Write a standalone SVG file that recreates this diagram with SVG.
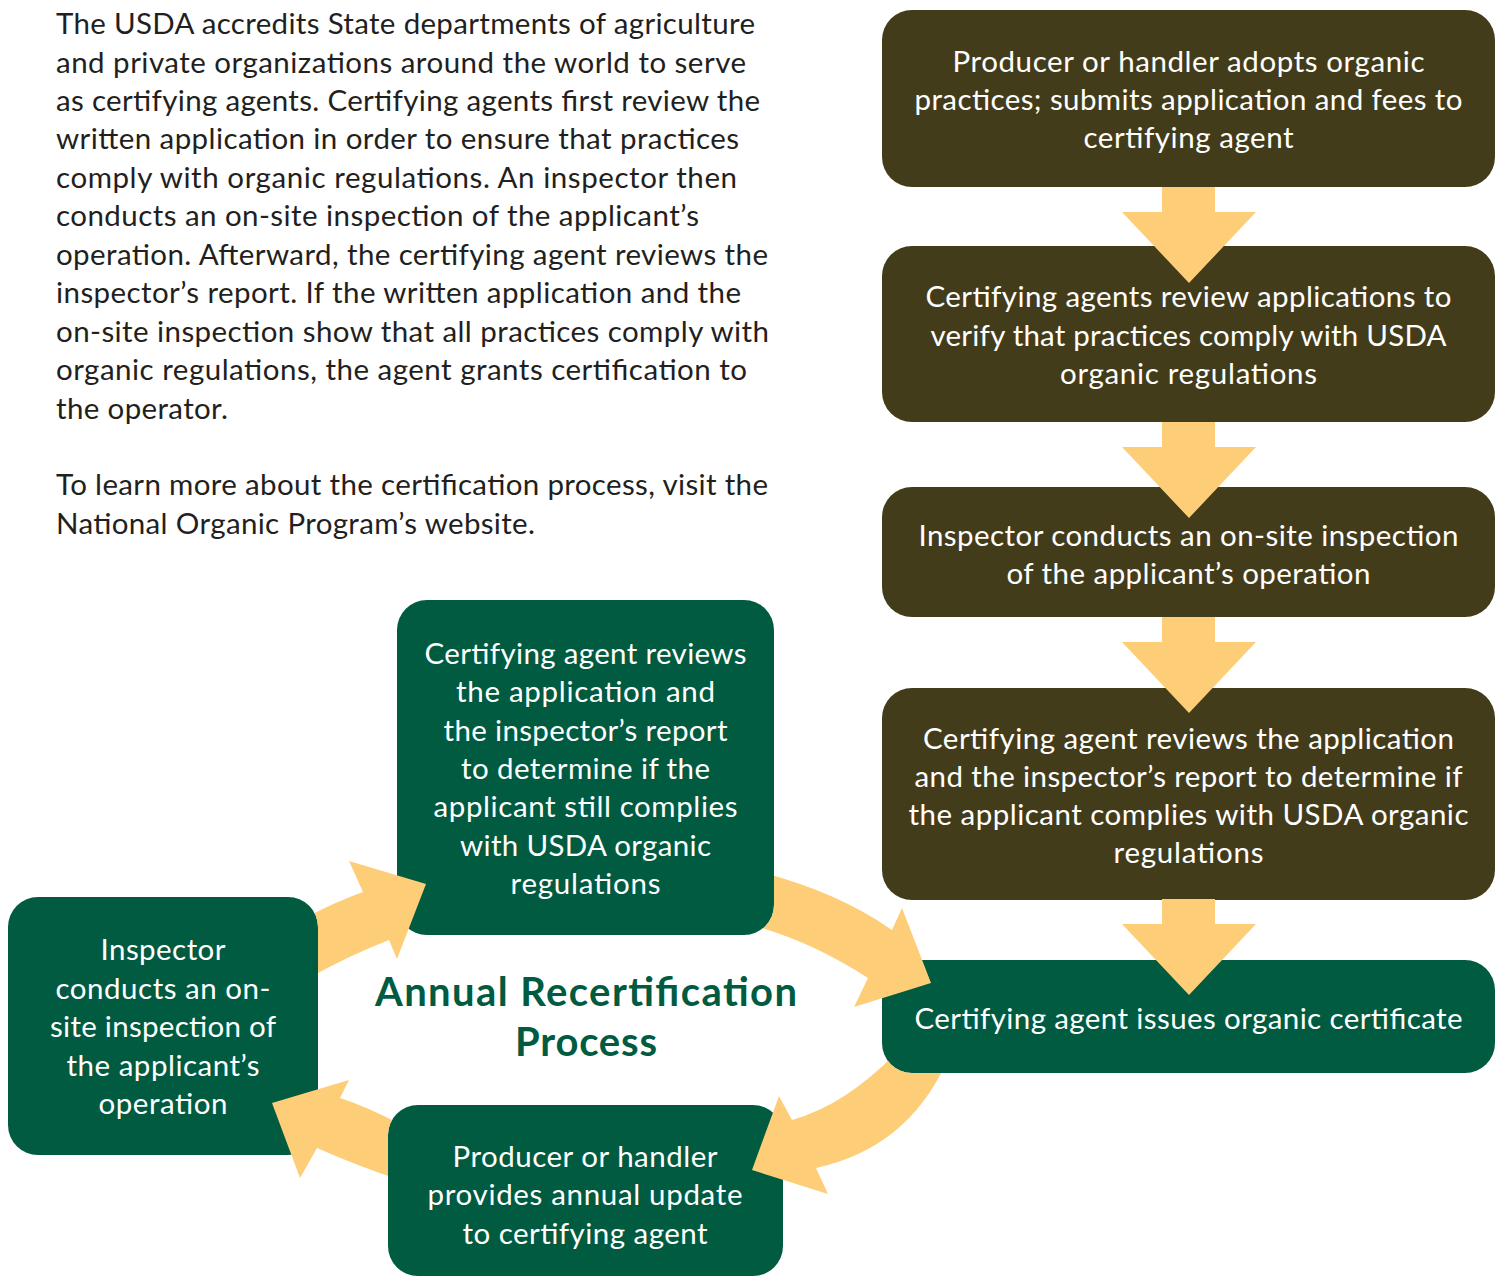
<svg xmlns="http://www.w3.org/2000/svg" width="1502" height="1277" viewBox="0 0 1502 1277">
<style>
.para{font-family:Lato,"Open Sans","Liberation Sans",sans-serif;font-size:29.5px;fill:#231f20}
.bt{font-family:Lato,"Open Sans","Liberation Sans",sans-serif;font-size:29.5px;fill:#ffffff;text-anchor:middle}
.title{font-family:Lato,"Open Sans","Liberation Sans",sans-serif;font-size:40px;font-weight:bold;fill:#005b41;text-anchor:middle}
.olive{fill:#433c1a}
.green{fill:#005b41}
.arrow{fill:#fecd78}
</style>
<defs>
<clipPath id="clipA"><path clip-rule="evenodd" d="M0 0H1502V1277H0Z M427,600 H744 A30 30 0 0 1 774,630 V905 A30 30 0 0 1 744,935 H427 A30 30 0 0 1 397,905 V630 A30 30 0 0 1 427,600 Z"/></clipPath>
<clipPath id="clipB"><path clip-rule="evenodd" d="M0 0H1502V1277H0Z M912,960 H1465 A30 30 0 0 1 1495,990 V1043 A30 30 0 0 1 1465,1073 H912 A30 30 0 0 1 882,1043 V990 A30 30 0 0 1 912,960 Z"/></clipPath>
<clipPath id="clipC"><path clip-rule="evenodd" d="M0 0H1502V1277H0Z M418,1105 H753 A30 30 0 0 1 783,1135 V1246 A30 30 0 0 1 753,1276 H418 A30 30 0 0 1 388,1246 V1135 A30 30 0 0 1 418,1105 Z"/></clipPath>
<clipPath id="clipD"><path clip-rule="evenodd" d="M0 0H1502V1277H0Z M38,897 H288 A30 30 0 0 1 318,927 V1125 A30 30 0 0 1 288,1155 H38 A30 30 0 0 1 8,1125 V927 A30 30 0 0 1 38,897 Z"/></clipPath>
</defs>
<rect width="1502" height="1277" fill="#ffffff"/>

<g id="intro">
<text class="para" x="56" y="34" textLength="699">The USDA accredits State departments of agriculture</text>
<text class="para" x="56" y="72.5" textLength="690">and private organizations around the world to serve</text>
<text class="para" x="56" y="111" textLength="704">as certifying agents. Certifying agents first review the</text>
<text class="para" x="56" y="149.4" textLength="683">written application in order to ensure that practices</text>
<text class="para" x="56" y="187.8" textLength="681">comply with organic regulations. An inspector then</text>
<text class="para" x="56" y="226.3" textLength="643">conducts an on-site inspection of the applicant’s</text>
<text class="para" x="56" y="264.7" textLength="712">operation. Afterward, the certifying agent reviews the</text>
<text class="para" x="56" y="303.2" textLength="685">inspector’s report. If the written application and the</text>
<text class="para" x="56" y="341.6" textLength="713">on-site inspection show that all practices comply with</text>
<text class="para" x="56" y="380" textLength="691">organic regulations, the agent grants certification to</text>
<text class="para" x="56" y="418.5" textLength="172">the operator.</text>
<text class="para" x="56" y="495.4" textLength="712">To learn more about the certification process, visit the</text>
<text class="para" x="56" y="534" textLength="479">National Organic Program’s website.</text>
</g>

<g id="step1">
<rect class="olive" x="882" y="10" width="613" height="177" rx="30"/>
<text class="bt" x="1188.5" y="72" textLength="472">Producer or handler adopts organic</text>
<text class="bt" x="1188.5" y="110" textLength="548">practices; submits application and fees to</text>
<text class="bt" x="1188.5" y="148" textLength="210">certifying agent</text>
</g>
<g id="step2">
<rect class="olive" x="882" y="246" width="613" height="176" rx="30"/>
<text class="bt" x="1188.5" y="307" textLength="526">Certifying agents review applications to</text>
<text class="bt" x="1188.5" y="346" textLength="516">verify that practices comply with USDA</text>
<text class="bt" x="1188.5" y="384" textLength="257">organic regulations</text>
</g>
<g id="step3">
<rect class="olive" x="882" y="487" width="613" height="130" rx="30"/>
<text class="bt" x="1188.5" y="546" textLength="540">Inspector conducts an on-site inspection</text>
<text class="bt" x="1188.5" y="584" textLength="364">of the applicant’s operation</text>
</g>
<g id="step4">
<rect class="olive" x="882" y="688" width="613" height="212" rx="30"/>
<text class="bt" x="1188.5" y="749" textLength="531">Certifying agent reviews the application</text>
<text class="bt" x="1188.5" y="787" textLength="548">and the inspector’s report to determine if</text>
<text class="bt" x="1188.5" y="825" textLength="560">the applicant complies with USDA organic</text>
<text class="bt" x="1188.5" y="863" textLength="150">regulations</text>
</g>
<g id="certificate">
<rect class="green" x="882" y="960" width="613" height="113" rx="30"/>
<text class="bt" x="1188.5" y="1029" textLength="548">Certifying agent issues organic certificate</text>
</g>
<g id="recert-review">
<rect class="green" x="397" y="600" width="377" height="335" rx="30"/>
<text class="bt" x="585.5" y="664" textLength="322">Certifying agent reviews</text>
<text class="bt" x="585.5" y="702" textLength="259">the application and</text>
<text class="bt" x="585.5" y="741" textLength="284">the inspector’s report</text>
<text class="bt" x="585.5" y="779" textLength="249">to determine if the</text>
<text class="bt" x="585.5" y="817" textLength="304">applicant still complies</text>
<text class="bt" x="585.5" y="856" textLength="251">with USDA organic</text>
<text class="bt" x="585.5" y="894" textLength="150">regulations</text>
</g>
<g id="recert-inspection">
<rect class="green" x="8" y="897" width="310" height="258" rx="30"/>
<text class="bt" x="163" y="960" textLength="125">Inspector</text>
<text class="bt" x="163" y="999" textLength="215">conducts an on-</text>
<text class="bt" x="163" y="1037" textLength="226">site inspection of</text>
<text class="bt" x="163" y="1076" textLength="193">the applicant’s</text>
<text class="bt" x="163" y="1114" textLength="129">operation</text>
</g>
<g id="annual-update">
<rect class="green" x="388" y="1105" width="395" height="171" rx="30"/>
<text class="bt" x="585" y="1167" textLength="265">Producer or handler</text>
<text class="bt" x="585" y="1205" textLength="315">provides annual update</text>
<text class="bt" x="585" y="1244" textLength="245">to certifying agent</text>
</g>
<g id="cycle-title">
<text class="title" x="586" y="1006" textLength="422">Annual Recertification</text>
<text class="title" x="586" y="1056" textLength="142">Process</text>
</g>

<g id="connectors">
<path class="arrow" d="M1162,187 H1215 V212 H1256 L1189,283 L1122,212 H1162 Z"/>
<path class="arrow" d="M1162,422 H1215 V447 H1256 L1189,518 L1122,447 H1162 Z"/>
<path class="arrow" d="M1162,617 H1215 V642 H1256 L1189,713 L1122,642 H1162 Z"/>
<path class="arrow" d="M1162,899 H1215 V924 H1256 L1189,995 L1122,924 H1162 Z"/>
<path class="arrow" clip-path="url(#clipA)" d="M752,870 Q835,890 892,930 L902,908 L931,983 L854,1007 L868,978 Q812,942 755,926 Z"/>
<path class="arrow" clip-path="url(#clipB)" d="M946,1063 Q907,1148 816,1168 L828,1194 L752,1170 L779,1096 L792,1120 Q845,1105 895,1054 Z"/>
<path class="arrow" clip-path="url(#clipC)" d="M400,1180 Q355,1165 317,1148 L300,1178 L272,1103 L349,1080 L340,1098 Q365,1106 400,1124 Z"/>
<path class="arrow" clip-path="url(#clipD)" d="M305,918 Q335,902 363,892 L349,861 L426,884 L397,959 L389,940 Q350,955 305,980 Z"/>
</g>
</svg>
